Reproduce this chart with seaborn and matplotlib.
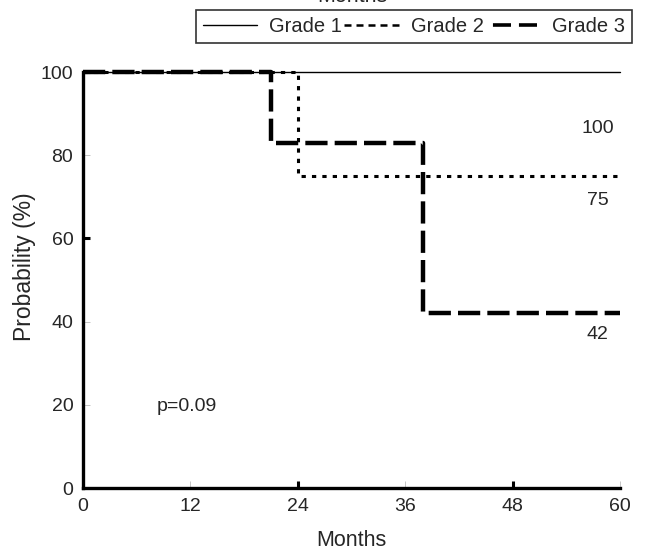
import pandas as pd
import matplotlib.pyplot as plt
import seaborn as sns

# survival step points
grades = ['Grade 1', 'Grade 2', 'Grade 3']
g1_months = [0, 60]
g1_prob = [100, 100]
g2_months = [0, 24, 60]
g2_prob = [100, 75, 75]
g3_months = [0, 21, 38, 60]
g3_prob = [100, 83, 42, 42]
end_labels = ['100', '75', '42']
end_label_y = [86.5, 69.2, 37]
p_text = 'p=0.09'

rows = []
for g, ms, ps in zip(grades, [g1_months, g2_months, g3_months], [g1_prob, g2_prob, g3_prob]):
    for m, p in zip(ms, ps):
        rows.append({'Grade': g, 'Months': m, 'Probability': p})
df = pd.DataFrame(rows)

sns.set_style('white', {'xtick.bottom': True, 'ytick.left': True,
                        'xtick.direction': 'in', 'ytick.direction': 'in'})
plt.rcParams['font.family'] = ['Liberation Sans', 'DejaVu Sans']
plt.rcParams['xtick.major.size'] = 5
plt.rcParams['ytick.major.size'] = 5

fig = plt.figure(figsize=(6.46, 5.51), dpi=100)
ax = fig.add_axes([0.1285, 0.1143, 0.8313, 0.755])

sns.lineplot(
    data=df, x='Months', y='Probability',
    hue='Grade', style='Grade', size='Grade',
    palette={'Grade 1': 'black', 'Grade 2': 'black', 'Grade 3': 'black'},
    dashes={'Grade 1': '', 'Grade 2': (1.4, 2.0), 'Grade 3': (5.0, 1.6)},
    sizes={'Grade 1': 1.0, 'Grade 2': 2.2, 'Grade 3': 3.2},
    drawstyle='steps-post', estimator=None, ax=ax, legend=False,
)
for line in ax.get_lines():
    line.set_clip_on(False)

ax.set_xlim(0, 60)
ax.set_ylim(0, 100)
ax.set_xticks([0, 12, 24, 36, 48, 60])
ax.set_yticks([0, 20, 40, 60, 80, 100])
ax.tick_params(axis='both', direction='in', length=5, labelsize=14, pad=7,
               bottom=True, left=True)

sns.despine(ax=ax)
for side in ['left', 'bottom']:
    ax.spines[side].set_linewidth(2.4)
    ax.spines[side].set_color('black')

ax.set_xlabel('Months', fontsize=15.5, labelpad=11)
ax.set_ylabel('Probability (%)', fontsize=16.5)
ax.yaxis.set_label_coords(-0.088, 0.531)

for lab, y in zip(end_labels, end_label_y):
    ax.text(57.5, y, lab, fontsize=14, ha='center', va='center')
ax.text(8.2, 19.5, p_text, fontsize=14, ha='left', va='center')

fig.text(352 / 646, 1 + 3 / 551, 'Months', fontsize=15.5, ha='center', va='center')

handles = [
    plt.Line2D([], [], color='black', lw=1.0),
    plt.Line2D([], [], color='black', lw=1.8, dashes=(2.8, 2.0)),
    plt.Line2D([], [], color='black', lw=2.6, linestyle=(5.0, (5.0, 2.2))),
]
leg = fig.legend(handles, grades, ncol=3, loc='upper right',
                 bbox_to_anchor=(632 / 646, 1 - 10 / 551),
                 frameon=True, fancybox=False, fontsize=14.5,
                 handlelength=2.7, handletextpad=0.6, columnspacing=0.1,
                 borderpad=0.35, borderaxespad=0)
leg.get_frame().set_edgecolor('black')
leg.get_frame().set_linewidth(1.2)

fig.canvas.draw()
# heavy black ticks at 24/48 and 60/100, faint grey ticks elsewhere
for tick in ax.xaxis.get_major_ticks():
    heavy = tick.get_loc() in (24, 48)
    tick.tick1line.set_markeredgewidth(2.2 if heavy else 0.6)
    tick.tick1line.set_markeredgecolor('black' if heavy else '#bbbbbb')
for tick in ax.yaxis.get_major_ticks():
    heavy = tick.get_loc() in (60, 100)
    tick.tick1line.set_markeredgewidth(2.2 if heavy else 0.6)
    tick.tick1line.set_markeredgecolor('black' if heavy else '#bbbbbb')

fig.savefig('out.png', dpi=100)
